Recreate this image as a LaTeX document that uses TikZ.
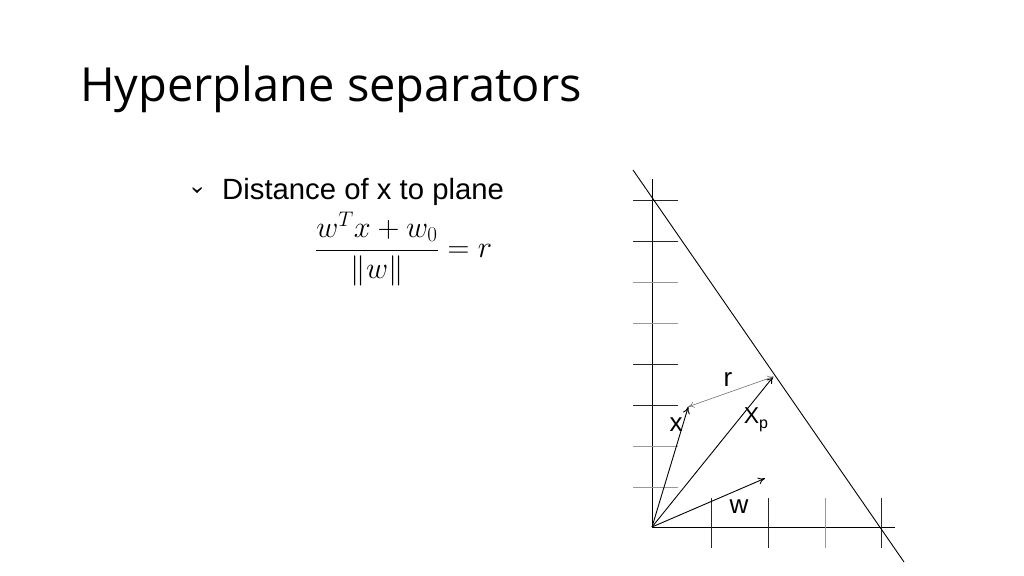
\documentclass[tikz,border=0pt]{standalone}
\usepackage{fontspec}
\newfontfamily\titlefont{Open Sans}
\newfontfamily\arialfont{Liberation Sans}
\usetikzlibrary{arrows.meta}
\begin{document}
\begin{tikzpicture}[x=1pt,y=-1pt,
  axis/.style={line width=1pt,black},
  tickdark/.style={line width=1pt,black!85},
  ticklight/.style={line width=1pt,black!40},
  vec/.style={line width=0.9pt,-{To[length=7pt,width=7pt]}},
  rvec/.style={line width=0.6pt,black!55,{To[length=6pt,width=6pt]}-{To[length=6pt,width=6pt]}},
  lbl/.style={font=\arialfont\fontsize{26}{30}\selectfont,inner sep=0pt}]
\useasboundingbox (0,0) rectangle (1024,575);
\node[anchor=base west,inner sep=0pt,font=\titlefont\fontsize{47}{56}\selectfont] (title) at (80,101.7) {Hyperplane separators};
\fill (192.5,187) -- (197,190.5) -- (201.5,187) -- (201.5,188.8) -- (197,193) -- (192.5,188.8) -- cycle;
\node[anchor=base west,inner sep=0pt,font=\arialfont\fontsize{29.3}{34}\selectfont] (bullet) at (222,199) {Distance of x to plane};
\node[inner sep=0pt,font=\fontsize{24}{29}\selectfont] (formula) at (403.5,249) {\scalebox{1.22}{$\displaystyle\frac{w^T x+w_0}{\|w\|}=r$}};
% axes
\coordinate (O) at (652,527);
\coordinate (ytop) at (652,179);
\coordinate (xend) at (895,527);
\draw[axis] (ytop) -- (O) -- (xend);
% y ticks
\foreach \y/\s in {200.7/tickdark,241.7/tickdark,282.7/ticklight,323.5/ticklight,364.5/tickdark,405.7/tickdark,446.7/ticklight,487.7/ticklight}
  \draw[\s] (633,\y) -- (678,\y);
% x ticks
\foreach \x/\s in {711.7/tickdark,768/tickdark,825/ticklight,881.7/tickdark}
  \draw[\s] (\x,498) -- (\x,548);
% plane
\coordinate (p1) at (633,170);
\coordinate (p2) at (904,562);
\draw[line width=0.9pt] (p1) -- (p2);
% vectors
\coordinate (X) at (688.3,406.7);
\coordinate (XP) at (773.3,376.7);
\coordinate (W) at (765,478.3);
\draw[vec] (O) -- (X);
\draw[vec] (O) -- (XP);
\draw[vec] (O) -- (W);
\draw[rvec] (X) -- (XP);
\node[lbl] (lr) at (728,380) {r};
\node[lbl] (lx) at (676,425) {x};
\node[lbl] (lxp) at (756,420) {\fontsize{23}{28}\selectfont X\raisebox{-5pt}{\fontsize{16}{20}\selectfont p}};
\node[lbl] (lw) at (739,507) {w};
\end{tikzpicture}
\end{document}
